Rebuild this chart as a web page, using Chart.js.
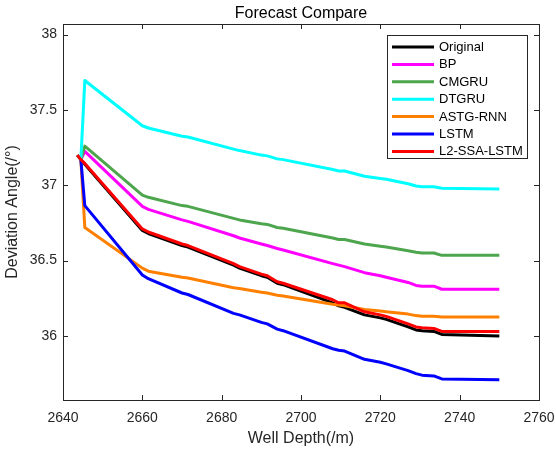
<!DOCTYPE html>
<html>
<head>
<meta charset="utf-8">
<title>Forecast Compare</title>
<script src="https://cdn.jsdelivr.net/npm/chart.js@4.4.0/dist/chart.umd.min.js"></script>
<style>
  html, body { margin: 0; padding: 0; background: #fff; }
  #wrap { width: 556px; height: 451px; }
</style>
</head>
<body>
<div id="wrap"><canvas id="forecastChart" width="556" height="451"></canvas></div>
<script>
// Profundidades de medición (m)
const depth = [2643.6, 2644.5, 2645.5, 2660, 2661.5, 2670, 2671.5, 2683, 2684.5, 2690, 2691.5,
  2694, 2695.5, 2708, 2709.5, 2711, 2716, 2720, 2721.5, 2727, 2729, 2730.5, 2733.5, 2735.5, 2750];

// Ángulo de desviación por modelo (°)
const original = [37.20, 37.17, 37.14, 36.70, 36.68, 36.60, 36.59, 36.47, 36.45, 36.40, 36.39,
  36.35, 36.34, 36.22, 36.20, 36.19, 36.14, 36.12, 36.11, 36.06, 36.04, 36.035, 36.03, 36.01, 36.00];
const bp = [null, 37.17, 37.225, 36.86, 36.84, 36.77, 36.76, 36.665, 36.65, 36.61, 36.60,
  36.58, 36.57, 36.48, 36.47, 36.46, 36.42, 36.40, 36.39, 36.355, 36.335, 36.33, 36.33, 36.31, 36.31];
const cmgru = [null, 37.17, 37.26, 36.935, 36.92, 36.865, 36.86, 36.78, 36.77, 36.745, 36.74,
  36.72, 36.715, 36.65, 36.64, 36.64, 36.61, 36.595, 36.59, 36.565, 36.555, 36.55, 36.55, 36.535, 36.535];
const dtgru = [null, 37.17, 37.695, 37.395, 37.38, 37.325, 37.32, 37.24, 37.23, 37.20, 37.195,
  37.175, 37.17, 37.105, 37.095, 37.095, 37.06, 37.045, 37.04, 37.01, 36.995, 36.99, 36.99, 36.98, 36.975];
const astgRnn = [null, 37.17, 36.72, 36.45, 36.43, 36.39, 36.385, 36.32, 36.315, 36.29, 36.285,
  36.27, 36.265, 36.21, 36.205, 36.20, 36.175, 36.165, 36.16, 36.145, 36.135, 36.13, 36.13, 36.125, 36.125];
const lstm = [null, 37.17, 36.865, 36.405, 36.38, 36.285, 36.275, 36.15, 36.14, 36.09, 36.08,
  36.045, 36.035, 35.915, 35.905, 35.90, 35.845, 35.825, 35.815, 35.77, 35.75, 35.74, 35.735, 35.715, 35.71];
const l2SsaLstm = [37.20, 37.17, 37.145, 36.71, 36.69, 36.61, 36.60, 36.48, 36.46, 36.41, 36.40,
  36.36, 36.35, 36.24, 36.22, 36.22, 36.16, 36.14, 36.13, 36.08, 36.06, 36.055, 36.05, 36.03, 36.03];

const seriesNames = ['Original', 'BP', 'CMGRU', 'DTGRU', 'ASTG-RNN', 'LSTM', 'L2-SSA-LSTM'];
const seriesData = [original, bp, cmgru, dtgru, astgRnn, lstm, l2SsaLstm];
const seriesColors = ['#000000', '#ff00ff', '#4da64d', '#00ffff', '#ff8000', '#0000ff', '#ff0000'];

const xTicks = [2640, 2660, 2680, 2700, 2720, 2740, 2760];
const yTicks = [36, 36.5, 37, 37.5, 38];

const FONT = '"Liberation Sans", Arial, Helvetica, sans-serif';
const AX = '#262626';

/* ===== Ejes estilo MATLAB: caja, marcas hacia dentro, textos y leyenda ===== */
const matlabAxes = {
  id: 'matlabAxes',
  afterDatasetsDraw(chart) {
    const { ctx, chartArea: a, scales: { x, y } } = chart;
    ctx.save();

    // caja
    ctx.strokeStyle = AX;
    ctx.lineWidth = 1;
    ctx.strokeRect(Math.round(a.left) + 0.5, Math.round(a.top) + 0.5,
      Math.round(a.right - a.left), Math.round(a.bottom - a.top));

    // marcas
    const tl = 5;
    ctx.beginPath();
    x.ticks.forEach(t => {
      const px = Math.round(x.getPixelForValue(t.value)) + 0.5;
      ctx.moveTo(px, a.bottom); ctx.lineTo(px, a.bottom - tl);
      ctx.moveTo(px, a.top); ctx.lineTo(px, a.top + tl);
    });
    y.ticks.forEach(t => {
      const py = Math.round(y.getPixelForValue(t.value)) + 0.5;
      ctx.moveTo(a.left, py); ctx.lineTo(a.left + tl, py);
      ctx.moveTo(a.right, py); ctx.lineTo(a.right - tl, py);
    });
    ctx.stroke();

    // etiquetas de marcas
    ctx.fillStyle = AX;
    ctx.font = `14px ${FONT}`;
    ctx.textBaseline = 'middle';
    ctx.textAlign = 'center';
    x.ticks.forEach(t => ctx.fillText(String(t.value), x.getPixelForValue(t.value), a.bottom + 18));
    ctx.textAlign = 'right';
    y.ticks.forEach(t => ctx.fillText(String(t.value), a.left - 6, y.getPixelForValue(t.value)));

    // títulos de ejes
    ctx.font = `16px ${FONT}`;
    ctx.textAlign = 'center';
    ctx.fillText('Well Depth(/m)', (a.left + a.right) / 2, a.bottom + 39);
    ctx.save();
    ctx.translate(13, (a.top + a.bottom) / 2);
    ctx.rotate(-Math.PI / 2);
    ctx.fillText('Deviation Angle(/°)', 0, 0);
    ctx.restore();

    // título
    ctx.fillStyle = '#000';
    ctx.fillText('Forecast Compare', (a.left + a.right) / 2, 14);

    // leyenda
    const bx = 387.5, by = 35.5, bw = 140, bh = 123;
    ctx.fillStyle = '#fff';
    ctx.fillRect(bx, by, bw, bh);
    ctx.strokeStyle = AX;
    ctx.lineWidth = 1;
    ctx.strokeRect(bx, by, bw, bh);
    ctx.font = `13px ${FONT}`;
    ctx.textAlign = 'left';
    seriesNames.forEach((name, i) => {
      const ry = 47 + i * 17.4;
      ctx.strokeStyle = seriesColors[i];
      ctx.lineWidth = 3;
      ctx.beginPath();
      ctx.moveTo(392, ry); ctx.lineTo(434, ry);
      ctx.stroke();
      ctx.fillStyle = '#000';
      ctx.fillText(name, 439, ry + 0.5);
    });

    ctx.restore();
  }
};

const datasets = seriesNames.map((name, i) => ({
  label: name,
  data: depth.map((d, k) => ({ x: d, y: seriesData[i][k] })),
  borderColor: seriesColors[i],
  backgroundColor: seriesColors[i],
  borderWidth: 3,
  pointRadius: 0,
  tension: 0,
  fill: false,
  spanGaps: false,
  borderJoinStyle: 'round',
  order: seriesNames.length - i   // las últimas series quedan encima
}));

new Chart(document.getElementById('forecastChart'), {
  type: 'line',
  data: { datasets },
  options: {
    responsive: false,
    animation: false,
    devicePixelRatio: 1,
    layout: { padding: { top: 24, right: 17, left: 0, bottom: 0 } },
    plugins: { legend: { display: false }, tooltip: { enabled: false }, title: { display: false } },
    scales: {
      x: {
        type: 'linear', min: 2640, max: 2760,
        grid: { display: false }, border: { display: false },
        ticks: { display: false },
        afterBuildTicks: s => { s.ticks = xTicks.map(v => ({ value: v })); },
        afterFit: s => { s.height = 51; }
      },
      y: {
        type: 'linear', min: 35.575, max: 38.07,
        grid: { display: false }, border: { display: false },
        ticks: { display: false },
        afterBuildTicks: s => { s.ticks = yTicks.map(v => ({ value: v })); },
        afterFit: s => { s.width = 63; }
      }
    }
  },
  plugins: [matlabAxes]
});
</script>
</body>
</html>
